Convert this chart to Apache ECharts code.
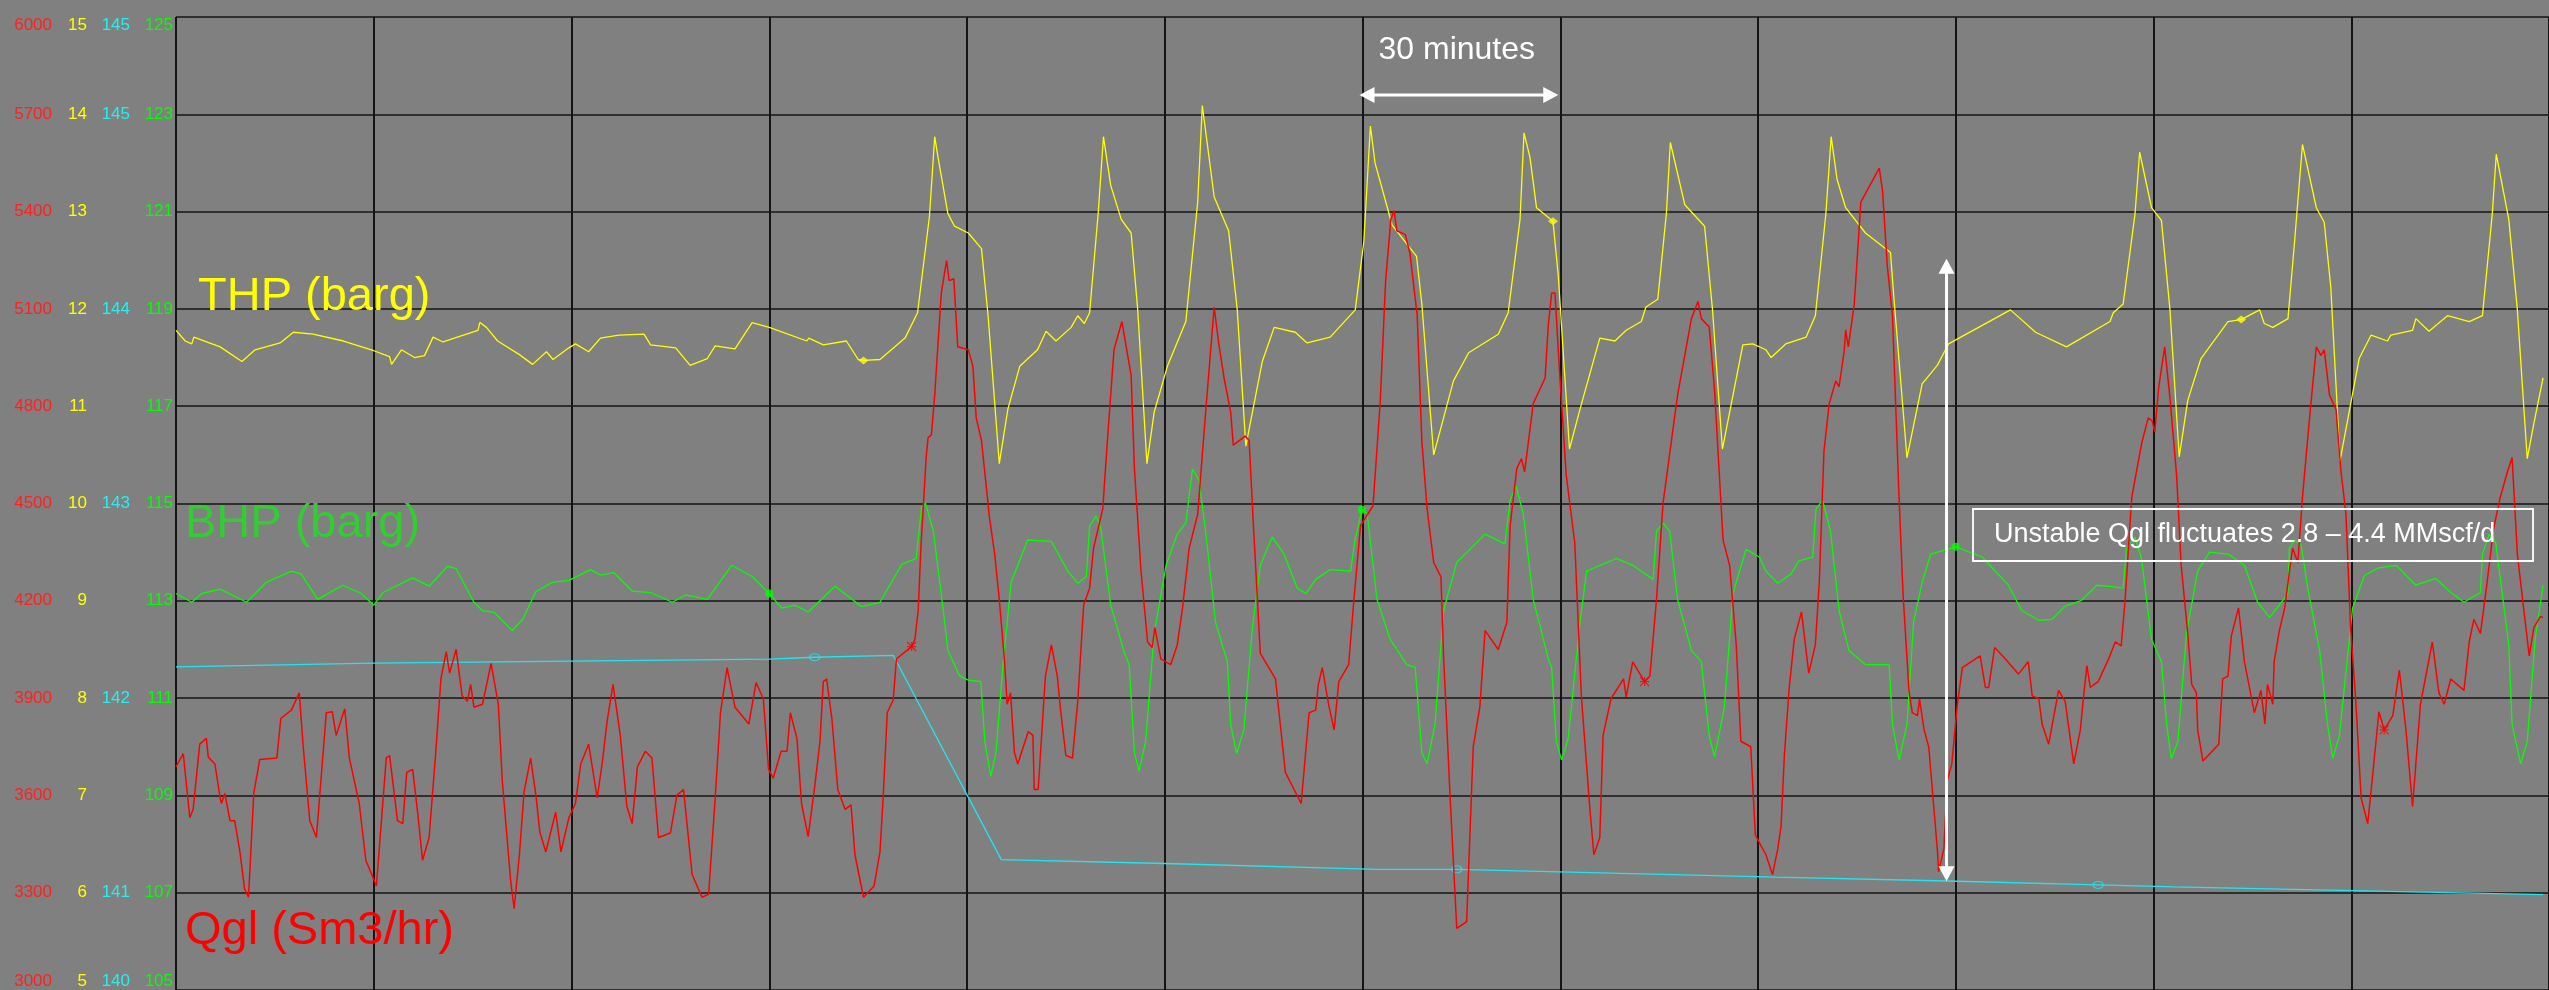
<!DOCTYPE html>
<html>
<head>
<meta charset="utf-8">
<title>Well trend – THP / BHP / Qgl</title>
<script src="https://cdn.jsdelivr.net/npm/echarts@6/dist/echarts.min.js"></script>
<style>
  html, body { margin: 0; padding: 0; background: #808080; }
  #chart { width: 2549px; height: 990px; }
</style>
</head>
<body>
<div id="chart"></div>
<script>
// ---- Trend data: [minutes from start of window, value] ----
const thpData = [[0,11.78],[1.4,11.67],[2.4,11.64],[2.7,11.71],[6.7,11.61],[10,11.46],[12,11.58],[15.8,11.65],[17.8,11.76],[20.8,11.74],[25.4,11.67],[30,11.57],[32.4,11.51],[32.7,11.43],[34.2,11.58],[36.2,11.50],[37.7,11.52],[39,11.71],[40.5,11.66],[45.8,11.78],[46.1,11.86],[47.1,11.81],[48.8,11.67],[52.1,11.53],[54.1,11.43],[56.2,11.56],[57.2,11.48],[59.6,11.60],[60.6,11.64],[62.6,11.56],[64.4,11.70],[67.2,11.73],[71,11.74],[72,11.63],[75.8,11.60],[78,11.42],[80.6,11.49],[81.8,11.62],[84.8,11.59],[87.4,11.86],[90,11.81],[95.7,11.67],[96,11.70],[98.2,11.63],[101.7,11.67],[103.5,11.48],[104.3,11.47],[106.8,11.48],[110.6,11.70],[112.5,11.96],[114.3,12.95],[115.1,13.77],[115.6,13.56],[117.1,12.98],[118.1,12.85],[120.2,12.78],[122.2,12.62],[123.2,11.93],[124.9,10.41],[126.2,10.97],[128,11.41],[130.7,11.58],[132,11.77],[133.5,11.67],[135.8,11.81],[136.8,11.93],[137.8,11.85],[138.6,11.96],[139.9,12.98],[140.7,13.77],[141.8,13.27],[143.4,12.92],[144.9,12.78],[145.9,11.99],[147.3,10.41],[148.4,10.94],[150.4,11.41],[153.2,11.87],[155,13.10],[155.7,14.09],[157.5,13.15],[159.7,12.80],[161,11.99],[162.3,10.59],[164.8,11.46],[166.6,11.81],[169.8,11.76],[171.6,11.65],[175.1,11.71],[178.9,11.99],[180.2,12.69],[181.2,13.88],[181.9,13.50],[184.5,12.86],[188.2,12.54],[189,12.05],[190.8,10.50],[193.8,11.26],[196.1,11.55],[200.6,11.74],[202.1,11.96],[203.9,12.92],[204.5,13.81],[205.4,13.56],[206.4,13.04],[208.9,12.90],[209.7,12.34],[211.4,10.56],[213,10.97],[216,11.70],[218.3,11.67],[220,11.78],[222.3,11.87],[223,12.02],[224.8,12.10],[226.1,12.98],[226.7,13.71],[228.9,13.07],[231.9,12.85],[233.1,11.99],[234.6,10.56],[237.7,11.63],[239.2,11.64],[241.2,11.58],[242,11.50],[244.2,11.64],[247.3,11.71],[248.7,11.93],[250.3,12.98],[251.1,13.77],[252,13.33],[253.3,13.04],[256.3,12.78],[260.1,12.58],[260.6,12.13],[262.6,10.47],[264.9,11.23],[267.2,11.42],[268.9,11.64],[278.3,11.99],[282.1,11.76],[286.8,11.61],[293.4,11.87],[293.9,11.96],[295.4,12.05],[297.2,12.98],[297.9,13.61],[299.7,13.04],[301.2,12.91],[302.5,11.99],[303.9,10.48],[305.2,11.06],[307.2,11.49],[311.3,11.87],[313.3,11.89],[316.1,11.99],[316.8,11.85],[318.1,11.81],[320.4,11.90],[321.4,12.69],[322.6,13.69],[324.7,13.04],[325.9,12.89],[326.9,12.22],[328.3,10.44],[331.2,11.49],[333,11.73],[335.5,11.67],[336,11.73],[339.3,11.78],[339.8,11.90],[341.8,11.77],[344.6,11.93],[347.9,11.87],[349.9,11.93],[351.4,12.98],[352,13.59],[353.9,12.92],[355.2,11.99],[356.7,10.46],[357.7,10.82],[359.1,11.29]];

const bhpData = [[0,113.15],[2.4,112.97],[3.9,113.15],[6.7,113.24],[10.7,112.97],[13.7,113.38],[17.5,113.61],[19,113.55],[21.5,113.03],[25.3,113.32],[28.1,113.15],[30,112.91],[31.4,113.17],[35.9,113.47],[38.4,113.30],[41.2,113.71],[42.5,113.66],[45.2,112.97],[46.5,112.80],[48.3,112.76],[51,112.39],[52.6,112.62],[54.6,113.19],[57.1,113.38],[59.6,113.42],[62.9,113.64],[64.4,113.53],[66.4,113.58],[69.2,113.20],[72,113.17],[75.3,112.97],[77.3,113.12],[80.6,113.03],[84.3,113.73],[87.4,113.50],[90,113.15],[91.9,112.85],[93.9,112.91],[95.9,112.77],[100,113.30],[104,112.88],[106.8,112.97],[110.1,113.75],[112.3,113.87],[113.1,114.92],[113.7,115.01],[114.9,114.43],[116.4,112.80],[117.1,111.98],[118.9,111.45],[120.2,111.37],[122.1,111.34],[122.7,110.11],[123.6,109.39],[124.4,109.88],[125.5,111.75],[126.7,113.38],[129.2,114.25],[132.8,114.22],[135.3,113.61],[136.8,113.36],[138.1,113.50],[138.6,114.54],[139.6,114.74],[140.3,114.49],[141.8,112.91],[143.9,111.92],[144.6,111.69],[145.4,109.88],[146.1,109.50],[147.1,110.11],[148.4,112.33],[150.2,113.73],[151.9,114.37],[153.2,114.60],[154.2,115.71],[155.2,115.48],[156.2,114.43],[157.7,112.56],[159.5,111.75],[160,110.46],[160.9,109.86],[162,110.35],[163.3,112.45],[164.5,113.73],[166.3,114.31],[168.1,113.96],[170.1,113.26],[171.4,113.15],[172.9,113.44],[175.1,113.64],[178.2,113.61],[178.8,114.20],[179.9,114.87],[180.7,114.80],[182.2,113.03],[184.2,112.21],[186.7,111.69],[188,111.63],[189,109.88],[189.8,109.65],[191,110.46],[192.3,112.80],[194.3,113.79],[195.8,113.99],[198.6,114.37],[201.6,114.17],[202.4,115.07],[203.3,115.36],[204.4,114.78],[205.9,113.03],[208.2,111.80],[208.7,111.63],[209.4,110.11],[210.2,109.73],[211.2,110.17],[213,112.56],[214,113.61],[218.5,113.87],[221,113.73],[224.1,113.44],[224.6,114.43],[225.6,114.60],[226.6,114.43],[227.8,113.03],[229.9,111.98],[231.4,111.75],[232.6,110.23],[233.4,109.79],[234.9,110.81],[236.2,113.15],[238.2,114.06],[240.2,113.90],[241.2,113.61],[243,113.36],[245,113.55],[246.2,113.82],[248.3,113.90],[248.8,114.89],[249.8,115.07],[251,114.43],[252.3,112.80],[253.8,111.98],[256.3,111.69],[259.9,111.69],[260.4,110.46],[261.4,109.73],[262.6,110.46],[263.6,112.56],[264.9,113.38],[266.2,113.96],[270,114.11],[274,113.90],[278,113.32],[280,112.80],[282.6,112.60],[284.6,112.62],[286.6,112.89],[289.1,113.01],[291.4,113.32],[293.7,113.29],[295.4,113.26],[295.9,114.08],[297.2,114.31],[298.2,113.85],[299.7,112.21],[301.2,111.75],[302,110.46],[302.7,109.76],[303.7,110.11],[305,112.33],[306.7,113.61],[308.5,114.00],[311.3,113.96],[313.8,113.73],[315.8,112.97],[317.6,112.66],[319.4,112.97],[320.4,113.15],[320.6,114.08],[321.4,114.25],[322.4,114.14],[323.4,113.26],[325.2,111.98],[326.4,110.46],[327.2,109.76],[328.2,110.23],[330.2,112.85],[332,113.52],[334,113.67],[336.8,113.73],[339.8,113.32],[342.8,113.46],[345.1,113.17],[347.1,112.97],[349.6,113.17],[349.9,113.96],[350.9,114.37],[351.9,114.20],[353.9,112.10],[354.4,110.46],[355.7,109.65],[356.7,110.11],[357.9,112.21],[359.1,113.32]];

const cyanData = [[0,141.66],[30,141.68],[60,141.69],[90,141.70],[96.9,141.71],[108.8,141.72],[125.2,140.67],[150,140.65],[182.2,140.62],[194.3,140.62],[242.7,140.58],[268.7,140.56],[291.6,140.54],[303.2,140.53],[359.1,140.49]];

const qglData = [[0,3688],[1.1,3729],[2.1,3531],[2.6,3557],[3.6,3758],[4.6,3776],[4.9,3718],[5.9,3697],[6.7,3592],[6.9,3575],[7.4,3606],[8.2,3522],[8.9,3522],[9.7,3426],[10.4,3312],[11,3286],[11.8,3606],[12.7,3711],[15.3,3715],[15.9,3837],[17.5,3863],[18.7,3916],[19.3,3750],[20.3,3522],[21.3,3470],[22.8,3855],[23.7,3858],[24.3,3785],[25.6,3867],[26.3,3715],[27.8,3575],[28.8,3400],[30.4,3321],[31.9,3715],[32.4,3723],[33.6,3522],[34.4,3513],[35,3671],[35.9,3680],[36.7,3540],[37.4,3400],[38.4,3470],[39.4,3732],[40.2,3961],[41,4043],[41.5,3977],[42.5,4050],[43.4,3908],[44.2,3890],[44.7,3942],[45.2,3872],[46.5,3881],[47.8,4007],[48.9,3881],[49.5,3645],[50.8,3330],[51.3,3251],[52.1,3417],[52.8,3610],[53.8,3715],[54.6,3601],[55.2,3487],[56.1,3426],[57.6,3548],[58.4,3426],[59.6,3531],[60.6,3575],[61.4,3697],[62.6,3758],[63.9,3592],[64.7,3706],[65.4,3828],[66.3,3942],[67.4,3785],[68.4,3566],[69.2,3513],[70,3688],[71.2,3736],[72.2,3715],[73.2,3470],[75,3484],[76,3601],[77,3618],[78.3,3356],[79.8,3286],[80.8,3295],[81.8,3592],[82.6,3855],[83.6,3994],[84.8,3872],[86.9,3820],[88,3948],[89.1,3898],[89.9,3680],[90.6,3653],[91.8,3736],[92.7,3736],[93.2,3855],[94.2,3776],[94.9,3575],[95.9,3473],[96.9,3627],[97.7,3767],[98.2,3951],[98.7,3959],[99.5,3837],[100.4,3618],[101.5,3557],[102.4,3571],[103,3417],[104.3,3286],[105.9,3321],[106.8,3426],[107.3,3601],[107.9,3855],[108.8,3894],[109.3,4021],[111.6,4059],[112.1,4082],[112.6,4170],[113,4362],[113.8,4642],[114.1,4703],[114.6,4712],[115.1,4834],[115.6,4992],[116.1,5149],[116.9,5249],[117.3,5187],[118,5193],[118.6,4983],[120.2,4974],[120.9,4922],[121.4,4764],[122.2,4694],[123.4,4458],[124.2,4344],[124.9,4204],[125.7,4012],[126.1,3881],[126.6,3916],[127.2,3732],[127.7,3697],[129.3,3797],[130,3785],[130.2,3618],[130.8,3618],[131.9,3968],[132.8,4064],[133.7,3968],[134.2,3863],[135,3723],[136,3715],[136.8,3889],[137.7,4187],[138.6,4239],[139.2,4362],[140.6,4484],[141.3,4694],[142.3,4974],[143.5,5061],[144.9,4895],[145.4,4607],[146.4,4292],[147.4,4073],[148.1,4056],[148.5,4117],[149.4,4021],[150.9,4003],[151.9,4064],[152.7,4178],[153.7,4362],[155,4467],[156,4729],[156.9,4957],[157.5,5105],[158.2,4992],[159,4887],[160,4782],[160.4,4680],[162.2,4708],[162.8,4694],[163.5,4414],[164.5,4038],[166.8,3959],[168.3,3671],[170.7,3575],[171.9,3855],[172.9,3863],[173.3,3942],[173.9,3994],[174.9,3876],[175.7,3802],[176.4,3951],[177.9,4003],[178.7,4204],[179.7,4432],[181.6,4493],[182.7,4817],[183.5,5184],[184.3,5376],[184.8,5403],[185.2,5341],[186.5,5329],[187.2,5271],[188.3,5079],[189,4694],[189.8,4484],[190.8,4318],[191.9,4274],[192.3,4030],[193.3,3592],[194.3,3190],[195.8,3211],[196.8,3750],[197.8,3872],[198.6,4108],[200.6,4050],[201.9,4134],[202.4,4432],[203.4,4607],[204.1,4638],[204.6,4598],[205.9,4808],[207.7,4887],[208.2,5053],[208.7,5149],[209.2,5149],[209.9,4904],[210.9,4589],[212.2,4379],[213.2,3907],[214.5,3557],[215.1,3417],[216,3470],[216.5,3785],[217.7,3898],[219.6,3959],[220,3904],[221,4012],[222.8,3951],[223.6,3968],[224.6,4204],[225.6,4502],[227.8,4834],[229.9,5070],[230.9,5123],[231.4,5070],[232.6,5044],[233.4,4852],[234.7,4388],[235.7,4309],[236.7,4064],[237.4,3767],[238.9,3750],[239.6,3478],[240.5,3443],[241.2,3417],[242.2,3356],[243,3435],[243.5,3505],[244,3723],[244.7,3924],[245.5,4082],[246.6,4166],[247.7,3977],[248.7,4064],[249.3,4257],[250,4659],[250.8,4808],[251.8,4878],[252.3,4860],[253.1,4974],[253.3,5035],[253.7,4983],[254.6,5114],[255.6,5429],[258.4,5534],[258.9,5464],[259.6,5236],[260.4,5079],[261.4,4519],[262,4222],[262.9,3924],[263.4,3855],[264.2,3846],[264.5,3898],[265.2,3802],[265.9,3750],[267.2,3435],[267.4,3365],[268.2,3435],[268.7,3645],[269.4,3697],[270.2,3872],[271,3994],[273.7,4030],[274.5,3933],[275,3933],[275.9,4056],[277.5,4021],[279.5,3974],[281,4012],[281.6,3907],[282.6,3898],[283.1,3820],[284.1,3758],[285.6,3924],[286.6,3890],[287.9,3697],[288.9,3802],[289.4,3907],[289.9,4000],[290.4,3933],[291.6,3951],[293.2,4021],[294.2,4073],[295.1,4061],[295.7,4204],[296.7,4519],[298.2,4685],[299.2,4764],[299.8,4755],[300.2,4720],[300.8,4860],[301.7,4983],[302.5,4825],[303.5,4589],[304.2,4309],[305.2,4099],[305.8,3942],[306.5,3916],[306.7,3802],[307.5,3706],[309.9,3758],[310.5,3959],[311.3,3968],[311.8,4091],[312.9,4178],[313.8,4012],[315.3,3855],[316.3,3924],[316.9,3820],[317.3,3942],[318.1,3881],[318.3,4012],[319.1,4108],[319.9,4178],[321.1,4362],[321.9,4318],[322.6,4519],[323.6,4747],[324.7,4983],[325.4,4957],[325.9,4974],[326.7,4834],[327.7,4790],[328.4,4607],[329.2,4467],[329.9,4117],[330.7,3889],[331.5,3592],[332.5,3513],[333.2,3653],[334.2,3858],[335,3802],[336.3,3846],[337.3,3986],[338.3,3802],[339.3,3566],[340.5,3881],[342.3,4073],[343.3,3916],[344.1,3881],[345.1,3959],[347.1,3924],[347.9,4073],[348.6,4143],[349.6,4099],[350.5,4239],[351.6,4423],[352.6,4519],[353.7,4598],[354.4,4642],[355.2,4344],[356.2,4169],[357,4030],[357.7,4117],[358.7,4152],[359.1,4148]];

// Sample markers the historian places on each trace (minutes)
const thpMarkerTimes = [104.3, 208.9, 313.3];
const bhpMarkerTimes = [90, 179.9, 270];
const cyanMarkerTimes = [96.9, 194.3, 291.6];
const qglMarkerTimes = [111.6, 222.8, 335];

// Axis ranges and tick labels
const qglAxis = { min: 3000, max: 6000, interval: 300 };
const thpAxis = { min: 5, max: 15, interval: 1 };
const cyanAxis = { min: 140, max: 145, interval: 0.5 };
const bhpAxis = { min: 105, max: 125, interval: 2 };
const cyanTickLabels = ['140', '141', '', '142', '', '143', '', '144', '', '145', '145'];
const timeAxis = { min: 0, max: 360, interval: 30 };   // 30 minutes per division

// Annotation texts
const labelTHP = 'THP (barg)';
const labelBHP = 'BHP (barg)';
const labelQgl = 'Qgl (Sm3/hr)';
const label30 = '30 minutes';
const labelUnstable = 'Unstable Qgl fluctuates 2.8 \u2013 4.4 MMscf/d';
const span30 = [180, 210];         // minutes covered by the "30 minutes" arrow
const swingTime = 268.6;           // minute where the Qgl swing arrow is drawn
const swingRange = [5255, 3335];   // Qgl range spanned by the swing arrow

const FONT = '"Liberation Sans", Arial, Helvetica, sans-serif';
const COL = { red: '#ff0000', yellow: '#ffff00', green: '#00ff00', cyan: '#1ee6ee' };

function leftAxis(cfg, color, offset, formatter, extra) {
  return Object.assign({
    type: 'value', position: 'left', offset: offset,
    min: cfg.min, max: cfg.max, interval: cfg.interval,
    axisLine: { show: false }, axisTick: { show: false },
    splitLine: { show: false },
    axisLabel: {
      color: color, fontSize: 17, fontFamily: FONT, margin: 3,
      showMinLabel: true, showMaxLabel: true,
      verticalAlignMaxLabel: 'top', verticalAlignMinLabel: 'bottom',
      formatter: formatter
    }
  }, extra || {});
}

const chart = echarts.init(document.getElementById('chart'), null, { renderer: 'canvas' });

const markerData = (data, times) => times.map(t => data.find(p => p[0] === t)).filter(Boolean);
const plain = v => String(Math.round(v * 100) / 100);
const cyanFmt = v => cyanTickLabels[Math.round((v - cyanAxis.min) / cyanAxis.interval)] || '';

const option = {
  backgroundColor: '#808080',
  animation: false,
  grid: { left: 176, top: 17, right: -6, bottom: 0, containLabel: false },
  xAxis: {
    type: 'value', min: timeAxis.min, max: timeAxis.max, interval: timeAxis.interval,
    axisLine: { show: false }, axisTick: { show: false }, axisLabel: { show: false },
    splitLine: { show: true, lineStyle: { color: '#141414', width: 2 } }
  },
  yAxis: [
    leftAxis(qglAxis, '#ff2020', 121, plain, {
      splitLine: { show: true, lineStyle: { color: '#141414', width: 1.5 } }
    }),
    leftAxis(thpAxis, '#ffff00', 86, plain),
    leftAxis(cyanAxis, '#22f0f0', 43, cyanFmt),
    leftAxis(bhpAxis, '#00ff00', 0, plain)
  ],
  series: [
    { name: 'Cyan', type: 'line', yAxisIndex: 2, data: cyanData, symbol: 'none',
      lineStyle: { color: COL.cyan, width: 1.3 } },
    { name: 'BHP', type: 'line', yAxisIndex: 3, data: bhpData, symbol: 'none',
      lineStyle: { color: COL.green, width: 1.3 } },
    { name: 'THP', type: 'line', yAxisIndex: 1, data: thpData, symbol: 'none',
      lineStyle: { color: COL.yellow, width: 1.3 } },
    { name: 'Qgl', type: 'line', yAxisIndex: 0, data: qglData, symbol: 'none',
      lineStyle: { color: COL.red, width: 1.5 } },
    { type: 'scatter', yAxisIndex: 2, data: markerData(cyanData, cyanMarkerTimes),
      symbol: 'circle', symbolSize: [10, 7],
      itemStyle: { color: 'rgba(0,0,0,0)', borderColor: COL.cyan, borderWidth: 1.2 } },
    { type: 'scatter', yAxisIndex: 3, data: markerData(bhpData, bhpMarkerTimes),
      symbol: 'circle', symbolSize: 8, itemStyle: { color: COL.green } },
    { type: 'scatter', yAxisIndex: 1, data: markerData(thpData, thpMarkerTimes),
      symbol: 'diamond', symbolSize: [10, 8], itemStyle: { color: COL.yellow } },
    { type: 'scatter', yAxisIndex: 0, data: markerData(qglData, qglMarkerTimes),
      symbol: 'path://M0,0L10,10M10,0L0,10M5,0L5,10M0,5L10,5', symbolSize: 9,
      itemStyle: { color: 'rgba(0,0,0,0)', borderColor: COL.red, borderWidth: 1.2 } }
  ]
};
chart.setOption(option);

// ---- annotations (labels, arrows, callout box) ----
function arrowHead(tipX, tipY, dx, dy, len, half) {
  // dx,dy: unit direction the head points to
  const bx = tipX - dx * len, by = tipY - dy * len;
  const px = -dy * half, py = dx * half;
  return { type: 'polygon', z: 100, silent: true,
    shape: { points: [[tipX, tipY], [bx + px, by + py], [bx - px, by - py]] },
    style: { fill: '#ffffff' } };
}
function textEl(text, x, y, color, size, align) {
  return { type: 'text', z: 100, silent: true, x: x, y: y,
    style: { text: text, fill: color, font: size + 'px ' + FONT,
      align: align || 'left', verticalAlign: 'middle' } };
}

const pA = chart.convertToPixel({ xAxisIndex: 0, yAxisIndex: 0 }, [span30[0], qglAxis.max]);
const pB = chart.convertToPixel({ xAxisIndex: 0, yAxisIndex: 0 }, [span30[1], qglAxis.max]);
const sTop = chart.convertToPixel({ xAxisIndex: 0, yAxisIndex: 0 }, [swingTime, swingRange[0]]);
const sBot = chart.convertToPixel({ xAxisIndex: 0, yAxisIndex: 0 }, [swingTime, swingRange[1]]);
const arrowY = 95;

const graphics = [
  textEl(labelTHP, 198, 297, '#ffff00', 47),
  textEl(labelBHP, 185, 524, '#33cc33', 47),
  textEl(labelQgl, 185, 931, '#ff0000', 47),
  textEl(label30, pA[0] + 16, 50, '#ffffff', 32),
  // 30-minute span arrow
  { type: 'line', z: 100, silent: true,
    shape: { x1: pA[0] + 8, y1: arrowY, x2: pB[0] - 8, y2: arrowY },
    style: { stroke: '#ffffff', lineWidth: 3 } },
  arrowHead(pA[0] - 3, arrowY, -1, 0, 15, 8),
  arrowHead(pB[0] - 2, arrowY, 1, 0, 15, 8),
  // Qgl swing arrow
  { type: 'line', z: 100, silent: true,
    shape: { x1: sTop[0], y1: sTop[1] + 8, x2: sBot[0], y2: sBot[1] - 8 },
    style: { stroke: '#ffffff', lineWidth: 3 } },
  arrowHead(sTop[0], sTop[1], 0, -1, 15, 8),
  arrowHead(sBot[0], sBot[1], 0, 1, 15, 8),
  // callout box
  { type: 'rect', z: 100, silent: true,
    shape: { x: 1973, y: 509, width: 560, height: 52 },
    style: { fill: 'none', stroke: '#ffffff', lineWidth: 1.8 } },
  textEl(labelUnstable, 1994, 535, '#ffffff', 27)
];
chart.setOption({ graphic: graphics });
</script>
</body>
</html>
